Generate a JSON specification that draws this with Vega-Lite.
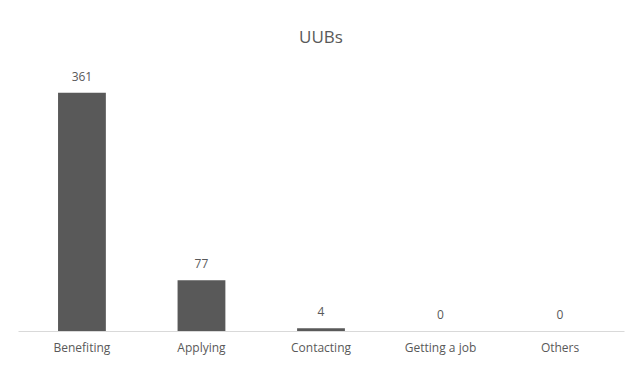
{
  "$schema": "https://vega.github.io/schema/vega-lite/v6.json",
  "autosize": {"type": "none"},
  "padding": {"left": 18, "top": 67, "right": 1, "bottom": 34},
  "width": 606,
  "height": 264,
  "background": "white",
  "title": {"text": "UUBs", "fontSize": 17, "font": "Open Sans", "fontWeight": "normal", "color": "#595959", "offset": 20, "anchor": "middle"},
  "data": {"values": [
    {"category": "Benefiting", "value": 361},
    {"category": "Applying", "value": 77},
    {"category": "Contacting", "value": 4},
    {"category": "Getting a job", "value": 0},
    {"category": "Others", "value": 0}
  ]},
  "encoding": {
    "x": {"field": "category", "type": "nominal", "sort": null,
      "scale": {"paddingInner": 0.6, "paddingOuter": 0.335},
      "axis": {"title": null, "labelAngle": 0, "ticks": false, "domainColor": "#d9d9d9", "labelColor": "#595959", "labelFont": "Open Sans", "labelFontSize": 12, "labelPadding": 11}},
    "y": {"field": "value", "type": "quantitative", "scale": {"domain": [0, 400]}, "axis": null}
  },
  "layer": [
    {"mark": {"type": "bar", "color": "#595959"}},
    {"mark": {"type": "text", "baseline": "bottom", "dy": -9, "font": "Open Sans", "fontSize": 12, "color": "#595959"},
     "encoding": {"text": {"field": "value", "type": "quantitative"}}}
  ],
  "config": {"view": {"stroke": null}}
}
